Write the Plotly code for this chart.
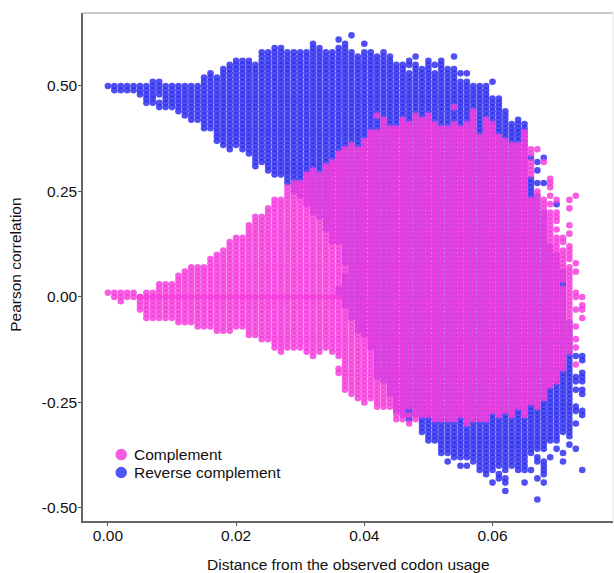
import plotly.graph_objects as go

# Distance grid of the observed columns
x_cols = [0.000,0.001,0.002,0.003,0.004,0.005,0.006,0.007,0.008,0.009,
          0.010,0.011,0.012,0.013,0.014,0.015,0.016,0.017,0.018,0.019,
          0.020,0.021,0.022,0.023,0.024,0.025,0.026,0.027,0.028,0.029,
          0.030,0.031,0.032,0.033,0.034,0.035,0.036,0.037,0.038,0.039,
          0.040,0.041,0.042,0.043,0.044,0.045,0.046,0.047,0.048,0.049,
          0.050,0.051,0.052,0.053,0.054,0.055,0.056,0.057,0.058,0.059,
          0.060,0.061,0.062,0.063,0.064,0.065,0.066,0.067,0.068,0.069,
          0.070,0.071,0.072]

# Column extents, correlation in hundredths
rev_top = [50,50,50,50,50,50,50,51,51,50,50,50,50,50,50,52,53,52,54,55,
           56,56,56,55,58,58,59,59,58,58,58,58,60,59,58,58,59,60,58,57,
           58,58,57,58,57,55,55,56,55,54,56,55,56,54,54,53,53,50,50,50,
           47,47,44,41,42,41,28,24,20,12,10,6,-6]
rev_bottom = [50,49,49,49,49,48,46,46,45,45,45,44,43,42,42,40,40,37,36,35,
              36,35,34,31,32,30,29,29,27,25,24,22,20,19,16,13,13,8,-5,-8,
              -9,-12,-19,-20,-23,-27,-28,-29,-28,-32,-34,-34,-37,-37,-38,-38,-38,-39,-41,-42,
              -41,-40,-41,-40,-41,-41,-37,-36,-36,-34,-34,-32,-33]
comp_top = [1,1,1,1,1,0,1,1,3,3,3,5,6,7,7,7,9,10,11,13,
            14,14,17,19,19,21,23,23,26,27,27,29,30,29,31,32,34,35,36,35,
            37,39,39,42,40,40,42,41,43,42,43,41,40,40,41,40,41,42,38,42,
            41,38,37,36,36,39,23,25,23,20,14,11,7]
comp_bottom = [1,0,-1,0,0,-3,-5,-5,-5,-5,-5,-6,-6,-6,-7,-7,-7,-8,-8,-8,
               -7,-7,-9,-9,-10,-10,-12,-13,-12,-12,-12,-13,-14,-13,-12,-13,-14,-22,-23,-24,
               -25,-24,-26,-26,-26,-29,-29,-30,-29,-28,-28,-29,-29,-29,-29,-28,-30,-29,-29,-29,
               -27,-28,-27,-28,-26,-28,-25,-26,-24,-21,-20,-17,-13]

# Separate points outside the column runs
rev_extra_x = [0.036,0.038,0.040,0.048,0.054,0.060,0.066,0.067,0.067,0.067,0.068,0.068,0.070,
               0.036,0.036,0.036,0.037,0.037,0.037,0.037,0.037,0.037,0.037,0.037,
               0.053,0.055,0.056,0.060,0.061,0.061,0.062,0.062,0.062,0.065,0.066,0.067,0.067,0.067,0.067,
               0.068,0.068,0.068,0.068,0.068,0.069,0.070,0.071,0.071,0.072,
               0.073,0.073,0.073,0.073,0.073,0.073,0.073,0.073,
               0.074,0.074,0.074,0.074,0.074,0.074,0.074,0.074,0.074,0.074,0.075]
rev_extra_y = [61,62,60,57,57,51,33,32,30,27,33,27,22,
               2,1,0,5,4,3,2,1,0,-1,-2,
               -39,-40,-40,-44,-42,-43,-43,-46,-44,-44,-41,-38,-39,-43,-48,
               -39,-40,-41,-42,-44,-38,-36,-37,-39,-35,
               -14,-19,-20,-22,-26,-27,-30,-36,
               -14,-15,-18,-19,-20,-22,-23,-27,-28,-41]
rev_hole_x = [0.008,0.047,0.051,0.055,0.056]
rev_hole_y = [47,54,54,52,52]

comp_extra_x = [0.036,0.036,0.042,0.054,0.057,0.057,0.066,0.066,0.066,0.066,0.066,0.066,0.067,0.068,
                0.069,0.069,0.069,0.069,0.069,0.070,0.070,0.070,0.070,0.070,0.071,0.071,
                0.072,0.072,0.072,0.072,0.072,0.072,0.072,0.072,
                0.073,0.073,0.073,0.073,0.073,0.073,0.073,0.073,0.073,0.073,
                0.074,0.074,0.074,0.074]
comp_extra_y = [-17,-18,43,45,44,43,35,34,32,31,30,29,35,32,
                28,27,26,24,22,23,20,19,18,16,14,13,
                23,21,17,15,12,11,10,9,
                24,8,6,1,0,-3,-7,-10,-12,-16,
                0,-2,-3,-5]
comp_hole_x = [0.047,0.047,0.071]
comp_hole_y = [-27,-29,3]
# A row of repeated points along zero
comp_zero_x = [0.005,0.006,0.007,0.008,0.009,0.010,0.011,0.012,0.013,0.014,0.015,0.016,0.017,0.018,
               0.019,0.020,0.021,0.022,0.023,0.024,0.025,0.026,0.027,0.028,0.029,0.030,0.031,0.032,
               0.033,0.034,0.035,0.036]
comp_zero_y = [0]*len(comp_zero_x)

y_ticks = [0.50,0.25,0.00,-0.25,-0.50]
y_labels = ["0.50","0.25","0.00","-0.25","-0.50"]
x_ticks = [0.00,0.02,0.04,0.06]
x_labels = ["0.00","0.02","0.04","0.06"]
legend_names = ["Complement", "Reverse complement"]


def expand(tops, bottoms, ex_x, ex_y, ho_x, ho_y):
    holes = set(zip(ho_x, ho_y))
    xs, ys = [], []
    for x, t, b in zip(x_cols, tops, bottoms):
        for v in range(b, t + 1):
            if (x, v) not in holes:
                xs.append(x)
                ys.append(v / 100)
    for x, v in zip(ex_x, ex_y):
        xs.append(x)
        ys.append(v / 100)
    return xs, ys


rx, ry = expand(rev_top, rev_bottom, rev_extra_x, rev_extra_y, rev_hole_x, rev_hole_y)
cx, cy = expand(comp_top, comp_bottom, comp_extra_x + comp_zero_x, comp_extra_y + comp_zero_y,
                comp_hole_x, comp_hole_y)

BLUE = "rgba(50,50,240,0.86)"
PINK = "rgba(245,62,220,0.84)"
LEG_COL = ["#f75bdf", "#4d55f5"]
FONT = "Liberation Sans, Arial, sans-serif"

fig = go.Figure()
fig.add_trace(go.Scatter(x=rx, y=ry, mode="markers", name=legend_names[1], showlegend=False,
                         marker=dict(size=6.6, color=BLUE, line=dict(width=0))))
fig.add_trace(go.Scatter(x=cx, y=cy, mode="markers", name=legend_names[0], showlegend=False,
                         marker=dict(size=6.6, color=PINK, line=dict(width=0))))

W, H = 614, 573
L, R, T, B = 83, 613.5, 13, 521.5
PW, PH = R - L, B - T


def px(x):
    return (x - L) / PW


def py(y):
    return (B - y) / PH


shapes = [
    dict(type="line", xref="paper", yref="paper", x0=0, x1=1, y0=1, y1=1,
         line=dict(color="#999999", width=1)),
    dict(type="line", xref="paper", yref="paper", x0=1, x1=1, y0=0, y1=1,
         line=dict(color="#e6e6e6", width=1)),
]
annotations = [
    dict(text="Distance from the observed codon usage", xref="paper", yref="paper",
         x=px(349), y=py(565), xanchor="center", yanchor="middle", showarrow=False,
         font=dict(size=15.5)),
    dict(text="Pearson correlation", xref="paper", yref="paper",
         x=px(16), y=py(265), xanchor="center", yanchor="middle", textangle=-90, showarrow=False,
         font=dict(size=15.5)),
]
for name, col, yy in zip(legend_names, LEG_COL, [455, 473]):
    shapes.append(dict(type="circle", xref="paper", yref="paper",
                       x0=px(115.5), x1=px(127), y0=py(yy + 5.75), y1=py(yy - 5.75),
                       fillcolor=col, line=dict(width=0)))
    annotations.append(dict(text=name, xref="paper", yref="paper", x=px(132.5), y=py(yy),
                            xanchor="left", yanchor="middle", showarrow=False,
                            font=dict(size=15.5)))

fig.update_layout(
    width=W, height=H, autosize=False, showlegend=False,
    margin=dict(l=L, r=W - R, t=T, b=H - B, pad=0),
    paper_bgcolor="white", plot_bgcolor="white",
    font=dict(family=FONT, size=15, color="#111111"),
    xaxis=dict(range=[-0.00389, 0.0788], tickvals=x_ticks, ticktext=x_labels, showgrid=False,
               zeroline=False, showline=True, linecolor="#666666", linewidth=1.5, automargin=False,
               ticks="outside", ticklen=3, tickcolor="#555555", tickfont=dict(size=15.5),
               ticklabelstandoff=-3),
    yaxis=dict(range=[-0.531, 0.673], tickvals=y_ticks, ticktext=y_labels, showgrid=False,
               zeroline=False, showline=True, linecolor="#666666", linewidth=1.5, automargin=False,
               ticks="outside", ticklen=3, tickcolor="#555555", tickfont=dict(size=15.5),
               ticklabelstandoff=-2),
    shapes=shapes, annotations=annotations,
)

fig.write_html("out.html", config={"displayModeBar": False},
               post_script="document.body.style.margin='0';")
